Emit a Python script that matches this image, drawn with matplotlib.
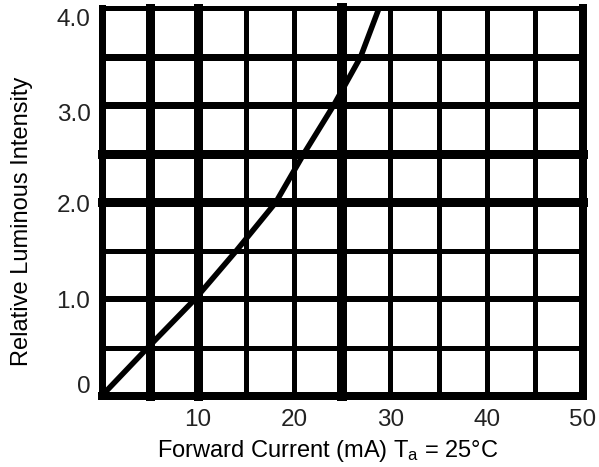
import matplotlib
matplotlib.use("Agg")
import matplotlib.pyplot as plt
import matplotlib.transforms as mtransforms

# ---- data ----
current_mA = [0, 4.8, 9.7, 14.0, 18.1, 21.0, 24.1, 26.9, 28.8]
rel_intensity = [0.0, 0.5, 1.0, 1.5, 2.0, 2.5, 3.0, 3.5, 4.0]

x_ticks = [10, 20, 30, 40, 50]
x_tick_labels = ["10", "20", "30", "40", "50"]
y_ticks = [0, 1, 2, 3, 4]
y_tick_labels = ["0", "1.0", "2.0", "3.0", "4.0"]

x_grid = [0, 5, 10, 15, 20, 25, 30, 35, 40, 45, 50]
y_grid = [0, 0.5, 1.0, 1.5, 2.0, 2.5, 3.0, 3.5, 4.0]

# ---- styles ----
x_grid_px = [7, 9, 9, 5, 5, 10, 5, 5, 5, 5, 8]
y_grid_px = [8, 5, 6, 5, 9, 9, 7, 7, 5]
px = 0.72  # points per pixel at dpi 100

plt.rcParams['font.family'] = ['Liberation Sans', 'DejaVu Sans']
plt.rcParams['mathtext.fontset'] = 'custom'
plt.rcParams['mathtext.rm'] = 'Liberation Sans'
plt.rcParams['mathtext.it'] = 'Liberation Sans'

W, H = 599, 467
fig = plt.figure(figsize=(W / 100, H / 100), dpi=100)
left, right, top, bottom = 101.6, 583.0, 8.5, 396.0
ax = fig.add_axes([left / W, 1 - bottom / H, (right - left) / W, (bottom - top) / H])
ax.set_xlim(0, 50)
ax.set_ylim(0, 4)
for s in ax.spines.values():
    s.set_visible(False)

for xv, lw in zip(x_grid, x_grid_px):
    ax.axvline(xv, color='black', lw=lw * px, clip_on=False, zorder=1,
               solid_capstyle='projecting')
for yv, lw in zip(y_grid, y_grid_px):
    ax.axhline(yv, color='black', lw=lw * px, clip_on=False, zorder=1,
               solid_capstyle='projecting')

ax.plot(current_mA, rel_intensity, color='black', lw=4.0, zorder=3,
        solid_capstyle='round')

ax.set_xticks(x_ticks)
ax.set_xticklabels(x_tick_labels, fontsize=17.5, color='#222222')
ax.set_yticks(y_ticks)
ax.set_yticklabels(y_tick_labels, fontsize=17.5, color='#222222')
ax.tick_params(axis='both', length=0)
ax.tick_params(axis='x', pad=9)
ax.tick_params(axis='y', pad=8)

# small vertical offsets of y tick labels as in the reference
offsets_pt = [8, 0, -1, -5, -6.5]
for lab, dy in zip(ax.get_yticklabels(), offsets_pt):
    lab.set_transform(lab.get_transform() +
                      mtransforms.ScaledTranslation(0, dy / 72, fig.dpi_scale_trans))

fig.text(328 / W, 1 - 451 / H, r"Forward Current (mA) T$_{\mathrm{a}}$ = 25°C",
         ha='center', va='center', fontsize=17)
fig.text(22 / W, 1 - 221 / H, "Relative Luminous Intensity", rotation=90,
         ha='center', va='center', fontsize=17)

fig.savefig("out.png", dpi=100, facecolor='white')
